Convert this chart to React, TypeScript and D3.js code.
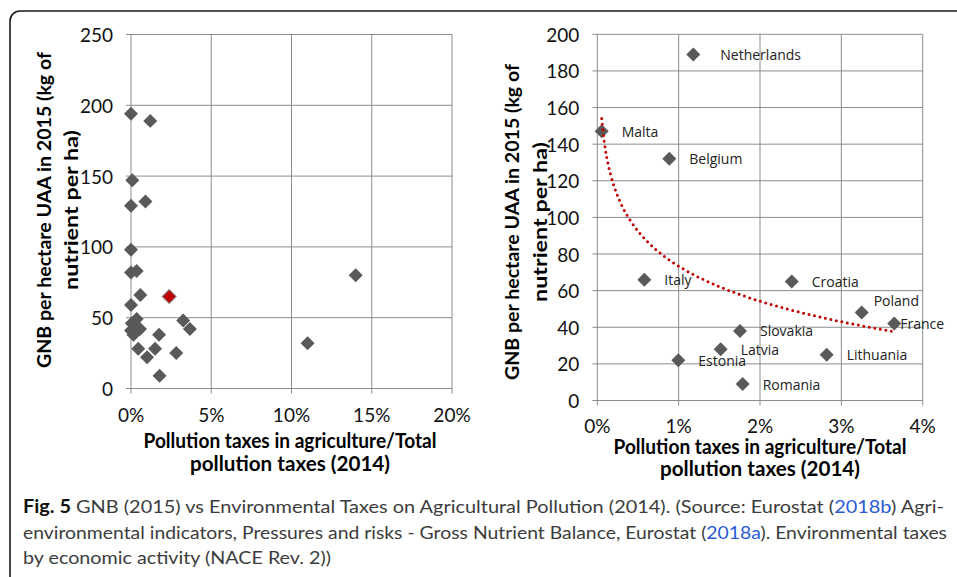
import React from "react";
import * as d3 from "d3";

// ---------- data ----------
// Left panel: all EU countries, x = pollution taxes in agriculture / total (%), y = GNB (kg/ha)
const leftX = [0.0, 1.2, 0.08, 0.0, 0.9, 0.0, 0.0, 0.35, 0.58, 2.38, 0.0, 0.35, 0.05, 0.0, 0.25, 0.56, 0.15, 0.45, 1.75, 1.5, 1.0, 2.82, 1.78, 3.25, 3.67, 14.0, 11.0];
const leftY = [194, 189, 147, 129, 132, 98, 82, 83, 66, 65, 59, 49, 46, 41, 42, 42, 38, 28, 38, 28, 22, 25, 9, 48, 42, 80, 32];
const leftHighlight = [9]; // Croatia

// Right panel: selected countries
const countries = ["Netherlands", "Malta", "Belgium", "Italy", "Croatia", "Poland", "France", "Slovakia", "Latvia", "Estonia", "Lithuania", "Romania"];
const rightX = [1.18, 0.054, 0.885, 0.578, 2.39, 3.25, 3.65, 1.754, 1.517, 0.996, 2.82, 1.787];
const rightY = [189, 147, 132, 66, 65, 48, 42, 38, 28, 22, 25, 9];

const leftYTicks = [0, 50, 100, 150, 200, 250];
const leftXTicks = [0, 5, 10, 15, 20];
const rightYTicks = [0, 20, 40, 60, 80, 100, 120, 140, 160, 180, 200];
const rightXTicks = [0, 1, 2, 3, 4];

const yTitle1 = "GNB per hectare UAA in 2015  (kg of";
const yTitle2 = "nutrient per ha)";
const xTitle1 = "Pollution taxes in agriculture/Total";
const xTitle2 = "pollution taxes (2014)";

// ---------- layout (not data) ----------
const labelOffset: Record<string, [number, number]> = {
  Netherlands: [27, 0],
  Poland: [12, -12],
  France: [6, 0],
};

const GRID = "#8c8c8c";
const MARK = "#595959";
const RED = "#c00000";
const TICK_FONT = "Lato, 'Open Sans', sans-serif";

const diamond = d3.symbol(d3.symbolSquare, 98)() as string;

function Panel(props: {
  x: d3.ScaleLinear<number, number>;
  y: d3.ScaleLinear<number, number>;
  xTicks: number[];
  yTicks: number[];
  xTickBase: number;
  titleCx: number;
  titleBase: number[];
  yTitleCx: number[];
  yTitleCy: number;
}) {
  const { x, y, xTicks, yTicks } = props;
  const [x0, x1] = x.range();
  const [y0, y1] = y.range();
  return (
    <g>
      {yTicks.map((t) => (
        <line key={"h" + t} x1={x0 - 5} x2={x1} y1={y(t)} y2={y(t)} stroke={GRID} strokeWidth={1} />
      ))}
      {xTicks.map((t) => (
        <line key={"v" + t} x1={x(t)} x2={x(t)} y1={y1} y2={y0 + 5} stroke={GRID} strokeWidth={1} />
      ))}
      {yTicks.map((t) => (
        <text key={"yl" + t} x={x0 - 18} y={y(t)} textAnchor="end" dominantBaseline="central" fontFamily={TICK_FONT} fontSize={19} fill="#111">
          {t}
        </text>
      ))}
      {xTicks.map((t) => (
        <text key={"xl" + t} x={x(t)} y={props.xTickBase} textAnchor="middle" fontFamily={TICK_FONT} fontSize={19} fill="#111">
          {t + "%"}
        </text>
      ))}
      <text x={props.titleCx} y={props.titleBase[0]} textAnchor="middle" fontFamily={TICK_FONT} fontWeight="bold" fontSize={20} textLength={293} lengthAdjust="spacingAndGlyphs" fill="#000">
        {xTitle1}
      </text>
      <text x={props.titleCx} y={props.titleBase[1]} textAnchor="middle" fontFamily={TICK_FONT} fontWeight="bold" fontSize={20} textLength={200} lengthAdjust="spacingAndGlyphs" fill="#000">
        {xTitle2}
      </text>
      <text transform={`translate(${props.yTitleCx[0]},${props.yTitleCy}) rotate(-90)`} textAnchor="middle" dominantBaseline="central" fontFamily={TICK_FONT} fontWeight="bold" fontSize={19.5} textLength={316} lengthAdjust="spacingAndGlyphs" fill="#000">
        {yTitle1}
      </text>
      <text transform={`translate(${props.yTitleCx[1]},${props.yTitleCy}) rotate(-90)`} textAnchor="middle" dominantBaseline="central" fontFamily={TICK_FONT} fontWeight="bold" fontSize={19.5} textLength={160} lengthAdjust="spacingAndGlyphs" fill="#000">
        {yTitle2}
      </text>
    </g>
  );
}

export default function App() {
  const xL = d3.scaleLinear().domain([0, 20]).range([131, 452]);
  const yL = d3.scaleLinear().domain([0, 250]).range([388.5, 34.5]);
  const xR = d3.scaleLinear().domain([0, 4]).range([597.3, 922.7]);
  const yR = d3.scaleLinear().domain([0, 200]).range([400.5, 34.3]);

  // logarithmic trendline fitted (least squares) to the right panel data
  const lnx = rightX.map((v) => Math.log(v));
  const mx = d3.mean(lnx) as number;
  const my = d3.mean(rightY) as number;
  const sxy = d3.sum(lnx, (l, i) => (l - mx) * (rightY[i] - my));
  const sxx = d3.sum(lnx, (l) => (l - mx) * (l - mx));
  const b = sxy / sxx;
  const a = my - b * mx;
  const [xmin, xmax] = d3.extent(rightX) as [number, number];
  const trendPts = d3.range(0, 101).map((k) => {
    const xv = xmin + ((xmax - xmin) * k) / 100;
    return [xv, a + b * Math.log(xv)] as [number, number];
  });
  const trendPath = d3
    .line<[number, number]>()
    .x((d) => xR(d[0]))
    .y((d) => yR(d[1]))
    .curve(d3.curveMonotoneX)(trendPts) as string;

  const capFont = "Lato, 'Open Sans', sans-serif";

  return (
    <svg width={957} height={577} style={{ position: "absolute", left: 0, top: 0, background: "#fff" }}>
      <rect x={10} y={11} width={1000} height={620} rx={10} ry={10} fill="#fff" stroke="#1a1a1a" strokeWidth={1.6} />

      <Panel x={xL} y={yL} xTicks={leftXTicks} yTicks={leftYTicks} xTickBase={421.5} titleCx={290} titleBase={[448, 471]} yTitleCx={[43, 70]} yTitleCy={210} />
      <Panel x={xR} y={yR} xTicks={rightXTicks} yTicks={rightYTicks} xTickBase={432.5} titleCx={760} titleBase={[453.5, 476]} yTitleCx={[511, 539]} yTitleCy={222} />

      {/* left markers */}
      {leftX.map((v, i) => {
        const hi = leftHighlight.includes(i);
        return (
          <path
            key={"l" + i}
            d={diamond}
            transform={`translate(${xL(v)},${yL(leftY[i])}) rotate(45)`}
            fill={hi ? RED : MARK}
            stroke={hi ? "#8a8a8a" : "none"}
            strokeWidth={1}
          />
        );
      })}

      {/* right markers */}
      {rightX.map((v, i) => (
        <path key={"r" + i} d={diamond} transform={`translate(${xR(v)},${yR(rightY[i])}) rotate(45)`} fill={MARK} />
      ))}

      {/* trendline */}
      <path d={trendPath} fill="none" stroke={RED} strokeWidth={3} strokeLinecap="round" strokeDasharray="0 5.6" />

      {/* right labels */}
      {countries.map((c, i) => {
        const [dx, dy] = labelOffset[c] || [20, 0];
        return (
          <text key={"t" + c} x={xR(rightX[i]) + dx} y={yR(rightY[i]) + dy} dominantBaseline="central" fontFamily="'Open Sans', sans-serif" fontSize={14} fill="#222">
            {c}
          </text>
        );
      })}

      {/* caption */}
      <text x={23} y={513} fontFamily={capFont} fontSize={18} fill="#3c3c3c" textLength={921} lengthAdjust="spacingAndGlyphs">
        <tspan fontWeight="bold" fill="#111">Fig. 5</tspan>
        <tspan> GNB (2015) vs Environmental Taxes on Agricultural Pollution (2014). (Source: Eurostat (</tspan>
        <tspan fill="#2a5bd7">2018b</tspan>
        <tspan>) Agri-</tspan>
      </text>
      <text x={23} y={538.5} fontFamily={capFont} fontSize={18} fill="#3c3c3c" textLength={924} lengthAdjust="spacingAndGlyphs">
        <tspan>environmental indicators, Pressures and risks - Gross Nutrient Balance, Eurostat (</tspan>
        <tspan fill="#2a5bd7">2018a</tspan>
        <tspan>). Environmental taxes</tspan>
      </text>
      <text x={23} y={564} fontFamily={capFont} fontSize={18} fill="#3c3c3c" textLength={308} lengthAdjust="spacingAndGlyphs">
        by economic activity (NACE Rev. 2))
      </text>
    </svg>
  );
}
